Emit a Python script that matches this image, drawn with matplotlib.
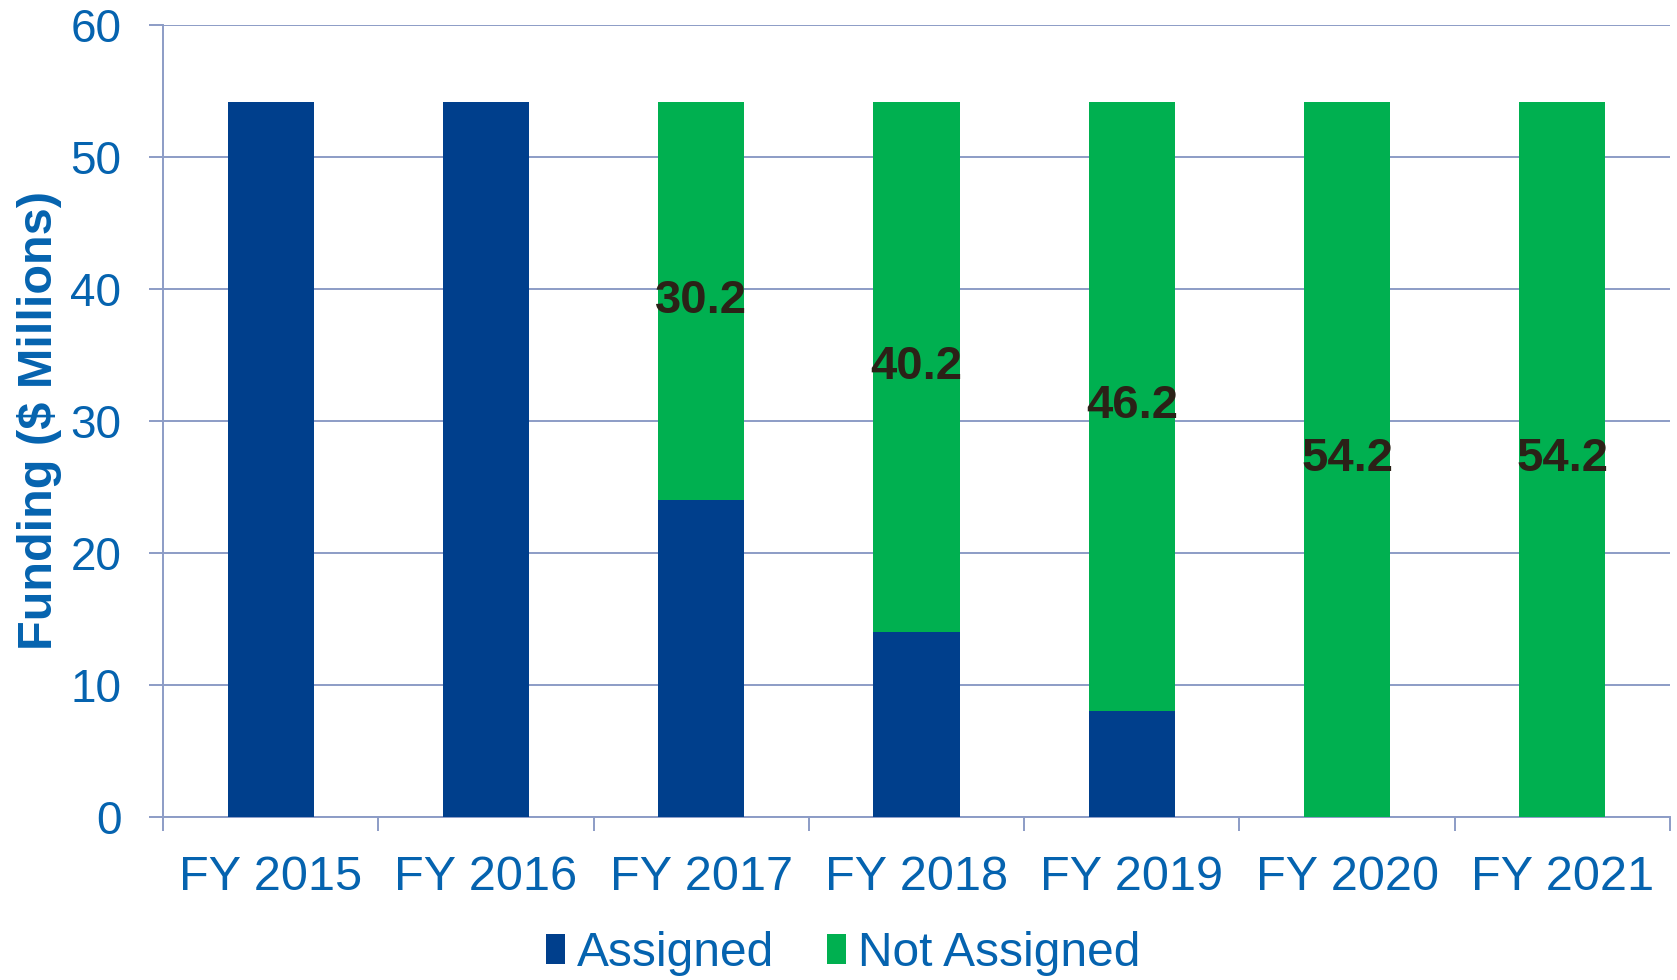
import matplotlib
matplotlib.use("Agg")
import matplotlib.pyplot as plt
import numpy as np

years = ["FY 2015", "FY 2016", "FY 2017", "FY 2018", "FY 2019", "FY 2020", "FY 2021"]
assigned = [54.2, 54.2, 24.0, 14.0, 8.0, 0.0, 0.0]
not_assigned = [0.0, 0.0, 30.2, 40.2, 46.2, 54.2, 54.2]

BLUE = "#003F8C"
GREEN = "#00B050"
TEXT = "#0563AF"
GRID = "#8C9CC6"

plt.rcParams["font.family"] = ["Liberation Sans", "DejaVu Sans"]

fig = plt.figure(figsize=(16.77, 9.8), dpi=100)
ax = fig.add_axes([163 / 1677, 1 - 817 / 980, (1670 - 163) / 1677, (817 - 25) / 980])

x = np.arange(len(years))
ax.bar(x, assigned, width=0.4, color=BLUE, label="Assigned", zorder=3)
ax.bar(x, not_assigned, width=0.4, bottom=assigned, color=GREEN,
       label="Not Assigned", zorder=3)

# value labels centred in the green segments
for xi, a, n in zip(x, assigned, not_assigned):
    if n > 0:
        ax.text(xi, a + n / 2, f"{n:.1f}", ha="center", va="center",
                fontsize=34, fontweight="bold", color="#2B2117", zorder=4)

ax.set_xlim(-0.5, len(years) - 0.5)
ax.set_ylim(0, 60)
ax.set_yticks(np.arange(0, 61, 10))
ax.yaxis.grid(True, color=GRID, linewidth=1.4, zorder=0)

ax.set_xticks(np.arange(-0.5, len(years)), minor=False)
ax.set_xticklabels([])
ax.set_xticks(x, minor=True)
ax.set_xticklabels(years, minor=True)
ax.tick_params(axis="x", which="major", length=10, width=1.4, color=GRID)
ax.tick_params(axis="x", which="minor", length=0, pad=27, labelsize=35, labelcolor=TEXT)
ax.tick_params(axis="y", length=10, width=1.4, color=GRID, pad=20,
               labelsize=33, labelcolor=TEXT)

for side in ["top", "right"]:
    ax.spines[side].set_visible(False)
for side in ["left", "bottom"]:
    ax.spines[side].set_color(GRID)
    ax.spines[side].set_linewidth(1.4)

ax.set_ylabel("Funding ($ Millions)", fontsize=35, fontweight="bold", color=TEXT,
              labelpad=6)

fig.legend(loc="center", bbox_to_anchor=(0.503, 0.027), ncol=2, frameon=False,
           fontsize=34.5, labelcolor=TEXT, handlelength=0.4, handleheight=0.6,
           handletextpad=0.25, columnspacing=1.1)

fig.savefig("out.png", dpi=100)
